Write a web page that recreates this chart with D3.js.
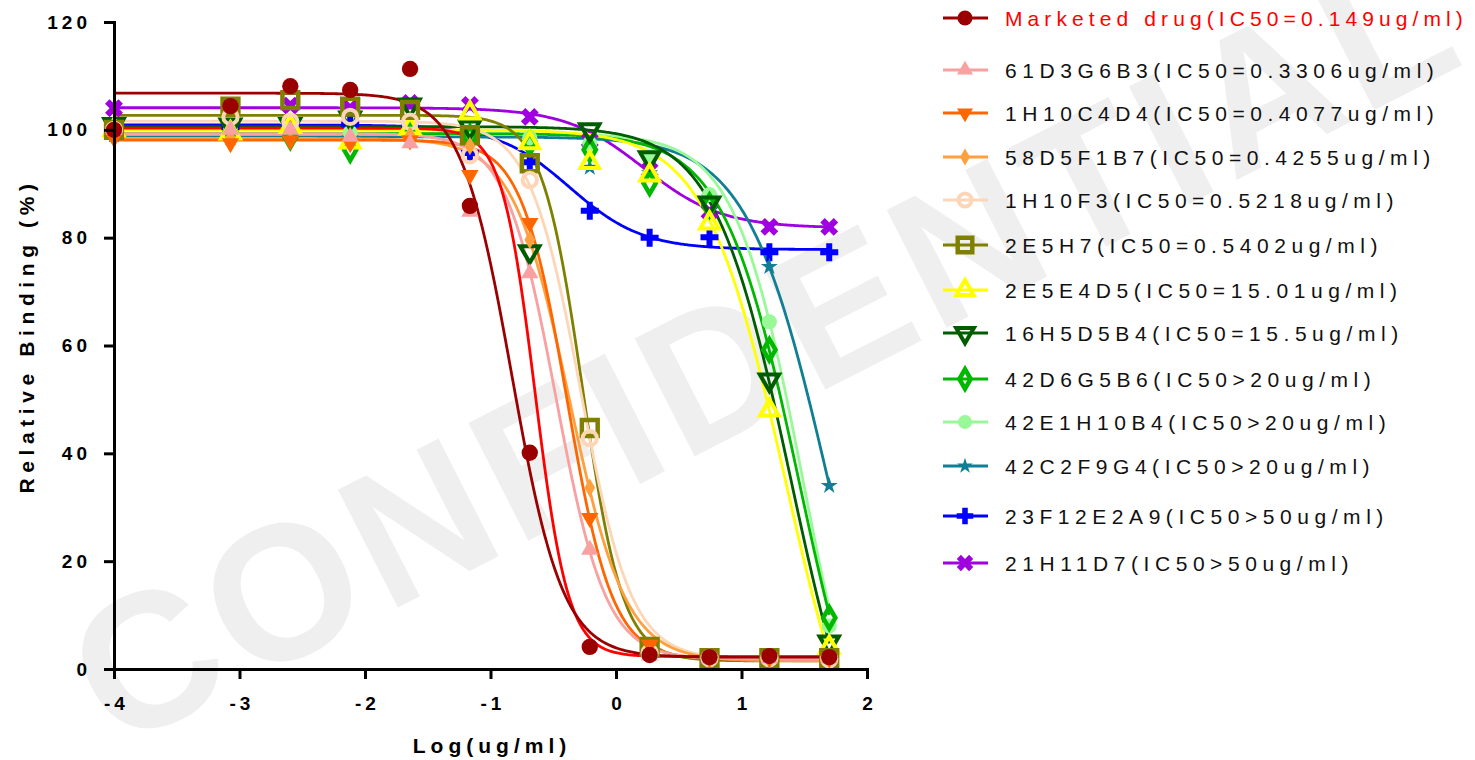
<!DOCTYPE html>
<html><head><meta charset="utf-8">
<title>Relative binding</title>
<script src="https://d3js.org/d3.v7.min.js"></script>
<style>
body { margin: 0; background: #fff; font-family: "Liberation Sans", Arial, sans-serif; }
</style>
</head>
<body>
<svg id="chart" width="1475" height="760"></svg>
<script>
// ---- data ----
const logConc = [-4, -3.072, -2.595, -2.118, -1.641, -1.164, -0.687, -0.209, 0.268, 0.745, 1.222, 1.699];

const seriesNames = [
  "Marketed drug(IC50=0.149ug/ml)",
  "61D3G6B3(IC50=0.3306ug/ml)",
  "1H10C4D4(IC50=0.4077ug/ml)",
  "58D5F1B7(IC50=0.4255ug/ml)",
  "1H10F3(IC50=0.5218ug/ml)",
  "2E5H7(IC50=0.5402ug/ml)",
  "2E5E4D5(IC50=15.01ug/ml)",
  "16H5D5B4(IC50=15.5ug/ml)",
  "42D6G5B6(IC50>20ug/ml)",
  "42E1H10B4(IC50>20ug/ml)",
  "42C2F9G4(IC50>20ug/ml)",
  "23F12E2A9(IC50>50ug/ml)",
  "21H11D7(IC50>50ug/ml)"
];

const binding = [
  [100, 104.4, 108.1, 107.4, 111.3, 85.9, 40.1, 4.1, 2.6, 2.2, 2.4, 2.2],
  [100, 100, 100, 98.7, 97.5, 84.8, 73.4, 22.1, 2.5, 2.0, 2.0, 2.0],
  [98.5, 97.5, 98, 97.5, 98, 91.6, 82.7, 28, 4.5, 2.0, 2.0, 2.0],
  [99, 98.5, 98, 98.5, 99, 97, 79.6, 33.6, 3.5, 2.0, 2.0, 1.8],
  [100, 102.4, 101.5, 102.4, 101.5, 95.3, 90.7, 42.8, 3.0, 2.0, 2.0, 1.8],
  [100, 104.3, 105.5, 104.3, 103.7, 99, 93.8, 44.7, 4.1, 2.0, 2.0, 2.0],
  [100, 99.4, 100.6, 97.7, 100.3, 103.1, 97.6, 93.9, 91.6, 82.7, 48, 4],
  [101, 100.9, 101, 102.2, 104.6, 100.5, 77.4, 100, 94.8, 86.4, 53.6, 5],
  [100, 99.5, 98.7, 96.3, 99.6, 98.7, 97.5, 96.3, 90.1, 86, 59.2, 9.5],
  [100, 100, 100, 99.5, 100, 99, 98.5, 97.5, 95, 88, 64.4, 8],
  [99, 98.5, 99, 98.5, 98.7, 98.5, 97.5, 93, 92, 87.5, 74.6, 34],
  [100.5, 100.5, 100.5, 101, 100.5, 95.7, 94, 85, 80, 80.1, 77.3, 77.3],
  [104, 104, 104.5, 104, 105, 104.6, 102.4, 98, 92.5, 84.8, 82, 82]
];

// four-parameter logistic fits
const fitTop     = [106.8, 99.3, 98.1, 98.4, 101.6, 102.7, 100, 100.6, 99.3, 99.3, 98.7, 100.9, 104.1];
const fitBottom  = [2.2, 1.8, 1.8, 1.5, 1.8, 1.5, -30, -30, -30, -30, -30, 77.8, 81.8];
const fitLogIC50 = [-0.83, -0.48, -0.39, -0.371, -0.2825, -0.267, 1.35, 1.392, 1.46, 1.493, 1.697, -0.37, 0.22];
const fitHill    = [2.14, 2.17, 2.39, 1.94, 2.14, 2.7, 1.37, 1.43, 1.45, 1.6, 1.34, 1.5, 1.4];

// an extra fitted curve (no markers, not in the legend)
const extraFit = [100.3, 2.3, -0.645, 3.3]; // top, bottom, logIC50, hill

const xTicks = [-4, -3, -2, -1, 0, 1, 2];
const yTicks = [0, 20, 40, 60, 80, 100, 120];

// ---- styles ----
const seriesColors = ["#9b0000", "#f9a0a0", "#ff6600", "#ffa040", "#fdd6b8", "#808000",
  "#ffff00", "#005c00", "#00b800", "#99f999", "#107f96", "#0000ff", "#a000e0"];
const markers = [
  {type: d3.symbolCircle,   size: 210, fill: true},
  {type: d3.symbolTriangle, size: 130, fill: true},
  {type: d3.symbolTriangle, size: 130, fill: true, rot: 180},
  {type: d3.symbolDiamond,  size: 100, fill: true},
  {type: d3.symbolCircle,   size: 160, fill: false, sw: 4},
  {type: d3.symbolSquare,   size: 250, fill: false, sw: 4.5},
  {type: d3.symbolTriangle, size: 150, fill: false, sw: 4},
  {type: d3.symbolTriangle, size: 160, fill: false, sw: 4, rot: 180},
  {type: d3.symbolDiamond,  size: 130, fill: false, sw: 4.5},
  {type: d3.symbolCircle,   size: 180, fill: true},
  {type: d3.symbolStar,     size: 90,  fill: true},
  {type: d3.symbolCross,    size: 180, fill: true},
  {type: d3.symbolCross,    size: 200, fill: true, rot: 45}
];

const svg = d3.select("#chart");
const font = '"Liberation Sans", Arial, sans-serif';

// watermark
svg.append("text")
  .attr("transform", "translate(795,405) rotate(-27)")
  .attr("text-anchor", "middle")
  .attr("font-family", font)
  .attr("font-weight", "bold")
  .attr("font-size", 192)
  .attr("letter-spacing", 8)
  .attr("fill", "#efefef")
  .text("CONFIDENTIAL");

const x = d3.scaleLinear().domain([-4, 2]).range([114, 867]);
const y = d3.scaleLinear().domain([0, 120]).range([669, 22]);

const logistic = (p, lx) => p[1] + (p[0] - p[1]) / (1 + Math.pow(10, (lx - p[2]) * p[3]));
const xs = d3.range(-4, 1.7001, 0.01);
const line = d3.line().x(d => x(d[0])).y(d => y(d[1]));

// fitted curves, last series first so the marketed drug ends on top
const curves = svg.append("g").attr("fill", "none").attr("stroke-width", 2.8);
for (let i = seriesNames.length - 1; i >= 0; i--) {
  const p = [fitTop[i], fitBottom[i], fitLogIC50[i], fitHill[i]];
  curves.append("path")
    .attr("d", line(xs.map(v => [v, logistic(p, v)])))
    .attr("stroke", seriesColors[i]);
  if (i === 1) {
    curves.append("path")
      .attr("d", line(xs.map(v => [v, logistic(extraFit, v)])))
      .attr("stroke", "#ff0000");
  }
}

function sym(g, m, color) {
  g.append("path")
    .attr("d", d3.symbol().type(m.type).size(m.size)())
    .attr("transform", m.rot ? "rotate(" + m.rot + ")" : null)
    .attr("fill", m.fill ? color : "none")
    .attr("stroke", m.fill ? "none" : color)
    .attr("stroke-width", m.sw || 0);
}

// data points
for (let i = seriesNames.length - 1; i >= 0; i--) {
  const g = svg.append("g");
  binding[i].forEach((v, k) => {
    const pg = g.append("g").attr("transform", "translate(" + x(logConc[k]) + "," + y(v) + ")");
    sym(pg, markers[i], seriesColors[i]);
  });
}

// axes
const yAxis = svg.append("g").attr("transform", "translate(114,0)")
  .call(d3.axisLeft(y).tickValues(yTicks).tickSize(10).tickSizeOuter(0).tickPadding(12));
const xAxis = svg.append("g").attr("transform", "translate(0,669)")
  .call(d3.axisBottom(x).tickValues(xTicks).tickSize(10).tickSizeOuter(0).tickPadding(18));
[xAxis, yAxis].forEach(a => {
  a.selectAll("path, line").attr("stroke", "#000").attr("stroke-width", 3);
  a.select(".domain").attr("stroke-linecap", "square");
  a.selectAll("text")
    .attr("font-family", font).attr("font-weight", "bold")
    .attr("font-size", 19).attr("letter-spacing", 4).attr("fill", "#000");
});
yAxis.selectAll("text").attr("dx", -1);
xAxis.selectAll("text").attr("dx", 2).text(d => d);

svg.append("text")
  .attr("x", 492).attr("y", 753)
  .attr("text-anchor", "middle")
  .attr("font-family", font).attr("font-weight", "bold")
  .attr("font-size", 21).attr("letter-spacing", 5)
  .text("Log(ug/ml)");

svg.append("text")
  .attr("transform", "translate(34,336) rotate(-90)")
  .attr("text-anchor", "middle")
  .attr("font-family", font).attr("font-weight", "bold")
  .attr("font-size", 21).attr("letter-spacing", 5.6)
  .text("Relative Binding (%)");

// legend
const legendY = [18, 70, 113, 157, 200, 245, 290, 333, 379, 422, 466, 516, 563];
const legend = svg.append("g");
seriesNames.forEach((name, i) => {
  const row = legend.append("g").attr("transform", "translate(0," + legendY[i] + ")");
  row.append("line").attr("x1", 943).attr("x2", 988).attr("y1", 0).attr("y2", 0)
    .attr("stroke", seriesColors[i]).attr("stroke-width", 3);
  const mg = row.append("g").attr("transform", "translate(965,0)");
  const m = Object.assign({}, markers[i], {size: markers[i].size * 0.85});
  sym(mg, m, seriesColors[i]);
  row.append("text")
    .attr("x", 1005).attr("y", 7.5)
    .attr("font-family", font)
    .attr("font-size", 21).attr("letter-spacing", i === 0 ? 5.1 : 5.55)
    .attr("fill", i === 0 ? "#ff0000" : "#111")
    .text(name);
});
</script>
</body>
</html>
